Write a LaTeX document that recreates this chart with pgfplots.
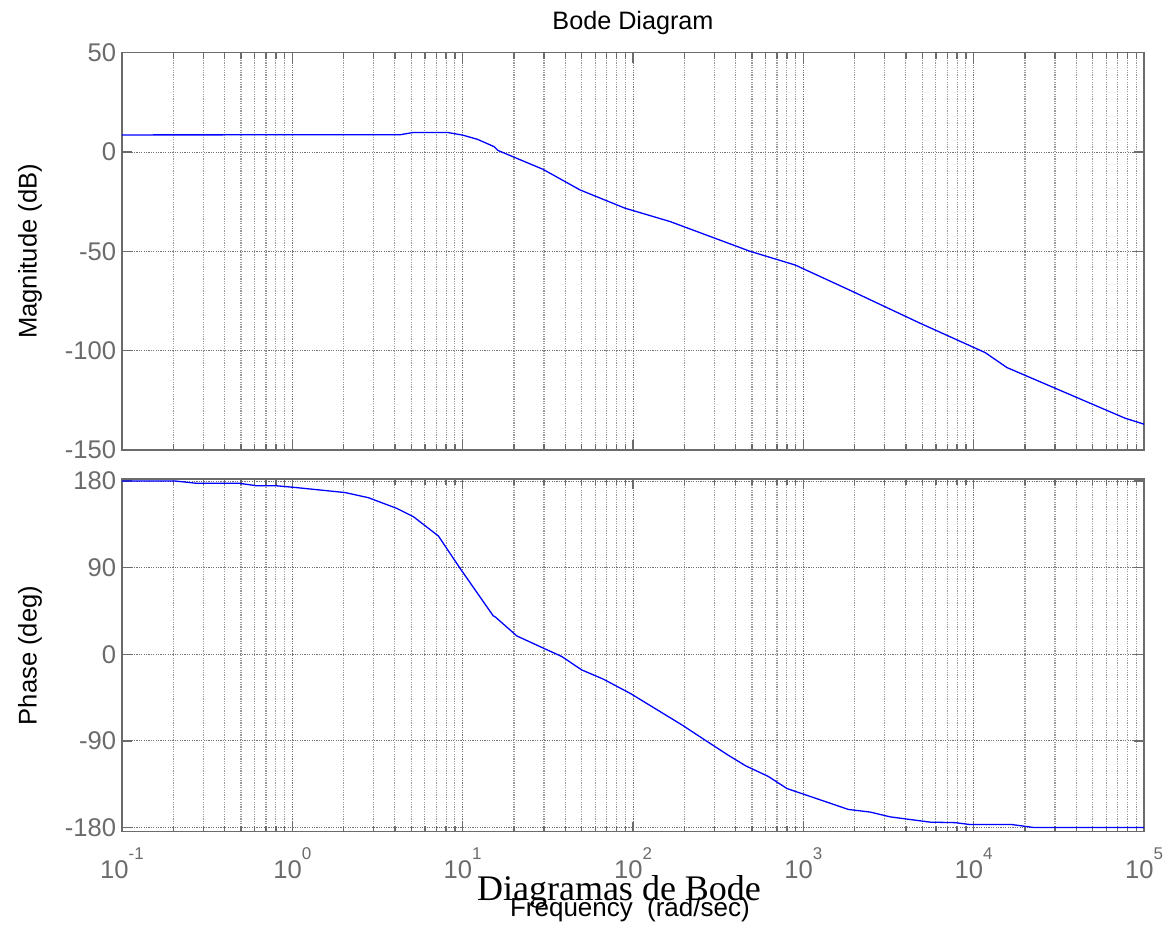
\documentclass[border=0pt]{standalone}
\usepackage{fontspec}
\setmainfont{Liberation Sans}
\newfontfamily\timesfont{Liberation Serif}
\usepackage{pgfplots}
\pgfplotsset{compat=1.18}
\definecolor{axgray}{gray}{0.42}
\definecolor{gridgray}{gray}{0.45}
\definecolor{mingray}{gray}{0.6}
\newcommand{\tlab}[1]{10\raisebox{9.1pt}{\fontsize{8.5}{8.5}\selectfont #1}}
\begin{document}
\begin{tikzpicture}
\path (0,0) rectangle (582pt,464.5pt);
\begin{axis}[
  scale only axis, width=511pt, height=198.65pt, xmode=log,
  xmin=0.1, xmax=100000,
  at={(61pt,239.5pt)}, anchor=south west,
  xtick={0.1,1,10,100,1000,10000,100000},
  minor xtick={0.2,0.3,0.4,0.5,0.6,0.7,0.8,0.9,2,3,4,5,6,7,8,9,20,30,40,50,60,70,80,90,200,300,400,500,600,700,800,900,2000,3000,4000,5000,6000,7000,8000,9000,20000,30000,40000,50000,60000,70000,80000,90000},
  xmajorgrids, xminorgrids, ymajorgrids,
  tick align=inside, major tick length=5pt, minor tick length=3pt,
  axis line style={axgray, line width=0.8pt},
  major tick style={axgray, line width=0.7pt},
  minor tick style={axgray, line width=0.7pt},
  major grid style={gridgray, dash pattern=on 0.6pt off 0.6pt, line width=0.5pt},
  minor grid style={mingray, dash pattern=on 0.6pt off 0.6pt, line width=0.6pt},
  tick label style={font=\fontsize{12.8}{12.8}\selectfont, text=axgray},
  yticklabel style={anchor=east, inner sep=0pt, xshift=-2.7pt},
  ylabel style={at={(axis description cs:-0.09,0.5)}, anchor=center, font=\fontsize{12.8}{12.8}\selectfont},
  ymin=-150, ymax=50, ytick={-150,-100,-50,0,50}, yticklabels={-150,-100,-50,0,50},
  xticklabels={},
  ylabel={Magnitude (dB)},
  title={Bode Diagram},
  every axis title shift=0pt,
  title style={at={(axis description cs:0.5,1)}, anchor=base, yshift=11.35pt, inner sep=0pt, font=\fontsize{12.6}{12.6}\selectfont},
]
\addplot[blue, line width=0.65pt] coordinates {
(0.1,8.6) (4.3,8.7) (5.1,9.8) (8.2,9.8) (10,8.5) (12.2,6.4) (15.3,2.7) (16.1,0.8)
(29.6,-8.7) (48.9,-19.1) (66.7,-23.8) (89.9,-28.3) (165,-35.0) (487,-50.0)
(896,-56.9) (1923,-70) (4850,-86.2) (11700,-101) (15670,-108.5) (77400,-134) (100000,-137)
};
\end{axis}
\begin{axis}[
  scale only axis, width=511pt, height=176.2pt, xmode=log,
  xmin=0.1, xmax=100000,
  at={(61pt,48.65pt)}, anchor=south west,
  xtick={0.1,1,10,100,1000,10000,100000},
  minor xtick={0.2,0.3,0.4,0.5,0.6,0.7,0.8,0.9,2,3,4,5,6,7,8,9,20,30,40,50,60,70,80,90,200,300,400,500,600,700,800,900,2000,3000,4000,5000,6000,7000,8000,9000,20000,30000,40000,50000,60000,70000,80000,90000},
  xmajorgrids, xminorgrids, ymajorgrids,
  tick align=inside, major tick length=5pt, minor tick length=3pt,
  axis line style={axgray, line width=0.8pt},
  major tick style={axgray, line width=0.7pt},
  minor tick style={axgray, line width=0.7pt},
  major grid style={gridgray, dash pattern=on 0.6pt off 0.6pt, line width=0.5pt},
  minor grid style={mingray, dash pattern=on 0.6pt off 0.6pt, line width=0.6pt},
  tick label style={font=\fontsize{12.8}{12.8}\selectfont, text=axgray},
  yticklabel style={anchor=east, inner sep=0pt, xshift=-2.7pt},
  xticklabel style={anchor=base, inner sep=0pt, yshift=-23.2pt},
  ylabel style={at={(axis description cs:-0.09,0.5)}, anchor=center, font=\fontsize{12.8}{12.8}\selectfont},
  ymin=-184.4, ymax=181.8, ytick={-180,-90,0,90,180}, yticklabels={-180,-90,0,90,180},
  xticklabels={\tlab{-1},\tlab{0},\tlab{1},\tlab{2},\tlab{3},\tlab{4},\tlab{5}},
  ylabel={Phase (deg)},
  xlabel={Frequency\hspace{0.55em}(rad/sec)},
  xlabel style={at={(axis description cs:0.497,0)}, anchor=base, yshift=-42.5pt, inner sep=0pt, font=\fontsize{13}{13}\selectfont},
]
\addplot[blue, line width=0.65pt] coordinates {
(0.1,180) (0.205,180) (0.275,177.6) (0.49,177.6) (0.62,175) (0.81,175) (1.01,173.5)
(2.04,168) (2.79,162.7) (4.1,151.6) (5.14,142.9) (7.2,122.9) (9.65,89.3) (15.1,40)
(15.6,38.5) (20.8,19) (29.8,6.3) (38.2,-2.4) (50,-16.3) (67,-25.9) (97,-41)
(194,-73.5) (277,-91.5) (363,-105) (459,-116) (623,-127) (800,-139.5) (1840,-161.3)
(2467,-164) (3235,-169) (5560,-174.5) (7790,-175) (9530,-177) (16760,-177) (22400,-180) (100000,-180)
};
\end{axis}
\node[anchor=base, inner sep=0pt, font=\timesfont\fontsize{18}{18}\selectfont] at (309.5pt,14.45pt) {Diagramas de Bode};
\end{tikzpicture}
\end{document}
